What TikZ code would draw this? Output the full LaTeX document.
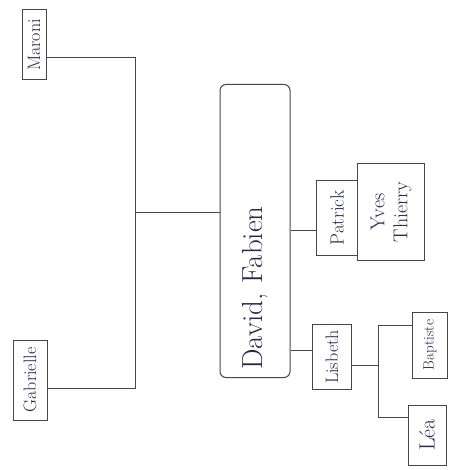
\documentclass[tikz,border=0pt]{standalone}
\usepackage{xcolor}
\usepackage{tikz}
\usetikzlibrary{positioning, calc}
\definecolor{myink}{RGB}{40,40,75}
\definecolor{mypen}{RGB}{70,70,70}
\tikzset{
  person/.style={rectangle, draw=mypen, line width=1pt, rotate=90,
    text=myink, inner sep=1pt, align=center, font=\fontsize{18}{20}\selectfont},
  couple/.style={person, rounded corners=6pt, inner sep=8pt, align=left,
    font=\fontsize{29}{31}\selectfont},
  link/.style={draw=mypen, line width=1pt}
}
\begin{document}
\begin{tikzpicture}[x=1pt, y=-1pt]
  \useasboundingbox (0,0) rectangle (454,470);

  % Parents generation
  \node[person, minimum width=70, minimum height=24] (maxime) at (34,45) {Maroni};
  \node[person, minimum width=80, minimum height=34] (gabrielle) at (30,380) {Gabrielle};

  % Couple
  \node[couple, minimum width=293, minimum height=70, text width=277] (david) at (255,231) {David, Fabien};

  % Children
  \node[person, minimum width=75, minimum height=41, font=\fontsize{19}{21}\selectfont] (patrick) at (337,218) {Patrick};
  \node[person, minimum width=97, minimum height=67, font=\fontsize{20}{23}\selectfont] (yves) at (391,212) {Yves\\Thierry};
  \node[person, minimum width=65, minimum height=39] (lisbeth) at (332,357) {Lisbeth};

  % Grandchildren
  \node[person, minimum width=66, minimum height=35, font=\fontsize{15}{17}\selectfont] (baptiste) at (430,345) {Baptiste};
  \node[person, minimum width=60, minimum height=38, font=\fontsize{22}{24}\selectfont] (lea) at (427,435) {Léa};

  % Junctions
  \coordinate (jtop) at (135,58);
  \coordinate (jbot) at (135,388);
  \coordinate (jmid) at (135,212);
  \coordinate (kid) at (378,365);
  \coordinate (ktop) at (378,325);
  \coordinate (kbot) at (378,417);

  % Connectors
  \draw[link] (maxime.south |- jtop) -- (jtop) -- (jbot) -- (gabrielle.south |- jbot);
  \draw[link] (jmid) -- (david.north |- jmid);
  \draw[link] (david.south |- 0,230) -- (patrick.north |- 0,230);
  \draw[link] (david.south |- 0,350) -- (lisbeth.north |- 0,350);
  \draw[link] (lisbeth.south |- kid) -- (kid);
  \draw[link] (baptiste.north |- ktop) -- (ktop) -- (kbot) -- (lea.north |- kbot);
\end{tikzpicture}
\end{document}
